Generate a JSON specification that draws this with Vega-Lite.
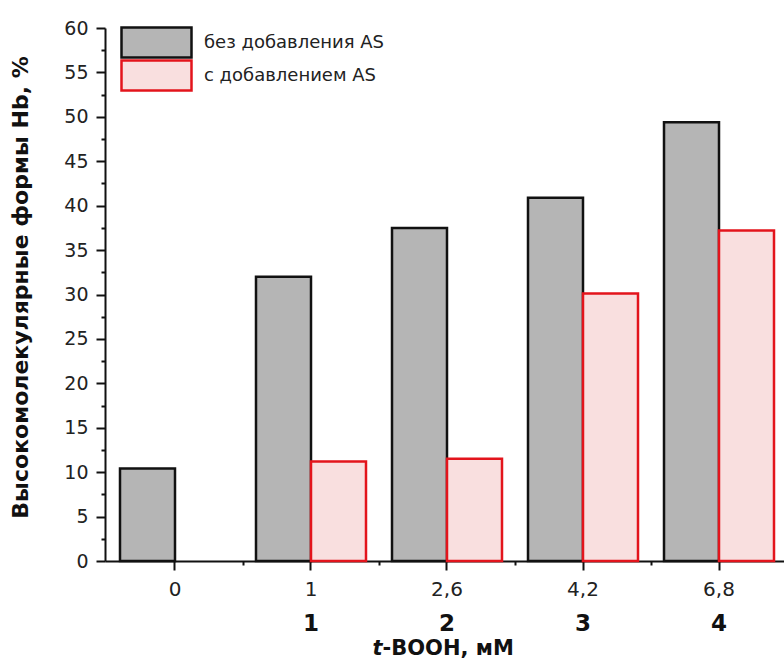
{
  "$schema": "https://vega.github.io/schema/vega-lite/v6.json",
  "width": 679,
  "height": 533,
  "autosize": {"type": "none"},
  "padding": {"left": 105, "top": 28, "right": 0, "bottom": 99},
  "background": "white",
  "config": {
    "view": {"stroke": null},
    "font": "DejaVu Sans",
    "axis": {"grid": false}
  },
  "data": {
    "values": [
      {"conc": "0", "series": "без добавления AS", "value": 10.4},
      {"conc": "1", "series": "без добавления AS", "value": 32.0},
      {"conc": "1", "series": "с добавлением AS", "value": 11.2},
      {"conc": "2,6", "series": "без добавления AS", "value": 37.5},
      {"conc": "2,6", "series": "с добавлением AS", "value": 11.5},
      {"conc": "4,2", "series": "без добавления AS", "value": 40.9},
      {"conc": "4,2", "series": "с добавлением AS", "value": 30.1},
      {"conc": "6,8", "series": "без добавления AS", "value": 49.4},
      {"conc": "6,8", "series": "с добавлением AS", "value": 37.2}
    ]
  },
  "layer": [
    {
      "mark": {"type": "bar", "strokeWidth": 2.5, "strokeJoin": "miter"},
      "encoding": {
        "x": {
          "field": "conc",
          "type": "ordinal",
          "sort": ["0", "1", "2,6", "4,2", "6,8"],
          "scale": {"paddingInner": 0.19118, "paddingOuter": 0.09191, "align": 0.6},
          "axis": {
            "orient": "bottom",
            "labelAngle": 0,
            "labelFontSize": 20,
            "labelPadding": 9,
            "labelColor": "#222222",
            "tickSize": 9,
            "tickWidth": 2,
            "tickColor": "#111111",
            "domainWidth": 2,
            "domainColor": "#111111",
            "title": "-BOOH, мМ",
            "titleFontSize": 21,
            "titleFontWeight": "bold",
            "titleColor": "#111111",
            "titleX": 277,
            "titleY": 93,
            "titleAlign": "left",
            "titleBaseline": "alphabetic"
          }
        },
        "xOffset": {
          "field": "series",
          "type": "nominal",
          "sort": ["без добавления AS", "с добавлением AS"],
          "scale": {"paddingInner": 0, "paddingOuter": 0}
        },
        "y": {
          "field": "value",
          "type": "quantitative",
          "scale": {"domain": [0, 60], "nice": false},
          "axis": {
            "orient": "left",
            "values": [0, 5, 10, 15, 20, 25, 30, 35, 40, 45, 50, 55, 60],
            "labelFontSize": 19,
            "labelPadding": 8,
            "labelColor": "#222222",
            "tickSize": 9,
            "tickWidth": 2,
            "tickColor": "#111111",
            "domainWidth": 2,
            "domainColor": "#111111",
            "title": "Высокомолекулярные формы Hb, %",
            "titleFontSize": 22,
            "titleFontWeight": "bold",
            "titleColor": "#111111",
            "titleAngle": -90,
            "titleX": -78,
            "titleY": 259,
            "titleAlign": "center",
            "titleBaseline": "alphabetic"
          }
        },
        "fill": {
          "field": "series",
          "type": "nominal",
          "scale": {
            "domain": ["без добавления AS", "с добавлением AS"],
            "range": ["#b5b5b5", "#f9dfdf"]
          },
          "legend": {
            "title": null,
            "orient": "none",
            "legendX": 15,
            "legendY": -2,
            "symbolType": "M-1,-0.43H1V0.43H-1Z",
            "symbolSize": 4900,
            "symbolStrokeWidth": 2.5,
            "labelFontSize": 18,
            "labelLimit": 400,
            "labelColor": "#222222",
            "labelOffset": 11,
            "clipHeight": 33,
            "rowPadding": 0
          }
        },
        "stroke": {
          "field": "series",
          "type": "nominal",
          "scale": {
            "domain": ["без добавления AS", "с добавлением AS"],
            "range": ["#111111", "#e3141c"]
          },
          "legend": {
            "title": null,
            "orient": "none",
            "legendX": 15,
            "legendY": -2,
            "symbolType": "M-1,-0.43H1V0.43H-1Z",
            "symbolSize": 4900,
            "symbolStrokeWidth": 2.5,
            "labelFontSize": 18,
            "labelLimit": 400,
            "labelColor": "#222222",
            "labelOffset": 11,
            "clipHeight": 33,
            "rowPadding": 0
          }
        }
      }
    },
    {
      "mark": {"type": "bar", "opacity": 0},
      "encoding": {
        "x": {
          "field": "conc",
          "type": "ordinal",
          "sort": ["0", "1", "2,6", "4,2", "6,8"],
          "axis": {
            "orient": "bottom",
            "labelExpr": "datum.label == '1' ? '1' : datum.label == '2,6' ? '2' : datum.label == '4,2' ? '3' : datum.label == '6,8' ? '4' : ''",
            "labelAngle": 0,
            "ticks": false,
            "tickSize": 0,
            "domain": false,
            "labelFontSize": 23,
            "labelFontWeight": "bold",
            "labelPadding": 51,
            "labelColor": "#111111",
            "title": "t",
            "titleFontSize": 21,
            "titleFontWeight": "bold",
            "titleFontStyle": "italic",
            "titleColor": "#111111",
            "titleX": 267,
            "titleY": 93,
            "titleAlign": "left",
            "titleBaseline": "alphabetic"
          }
        },
        "y": {
          "field": "value",
          "type": "quantitative",
          "axis": {
            "orient": "left",
            "values": [2.5, 7.5, 12.5, 17.5, 22.5, 27.5, 32.5, 37.5, 42.5, 47.5, 52.5, 57.5],
            "labels": false,
            "domain": false,
            "tickSize": 4,
            "tickWidth": 2,
            "tickColor": "#111111",
            "title": null
          }
        }
      }
    },
    {
      "mark": {"type": "bar", "opacity": 0},
      "encoding": {
        "x": {
          "field": "conc",
          "type": "ordinal",
          "sort": ["0", "1", "2,6", "4,2", "6,8"],
          "axis": {
            "orient": "bottom",
            "bandPosition": 1.1182,
            "labels": false,
            "domain": false,
            "tickSize": 4,
            "tickWidth": 2,
            "tickColor": "#111111",
            "title": null
          }
        },
        "y": {"field": "value", "type": "quantitative", "axis": null}
      }
    }
  ],
  "resolve": {"axis": {"x": "independent", "y": "independent"}}
}
